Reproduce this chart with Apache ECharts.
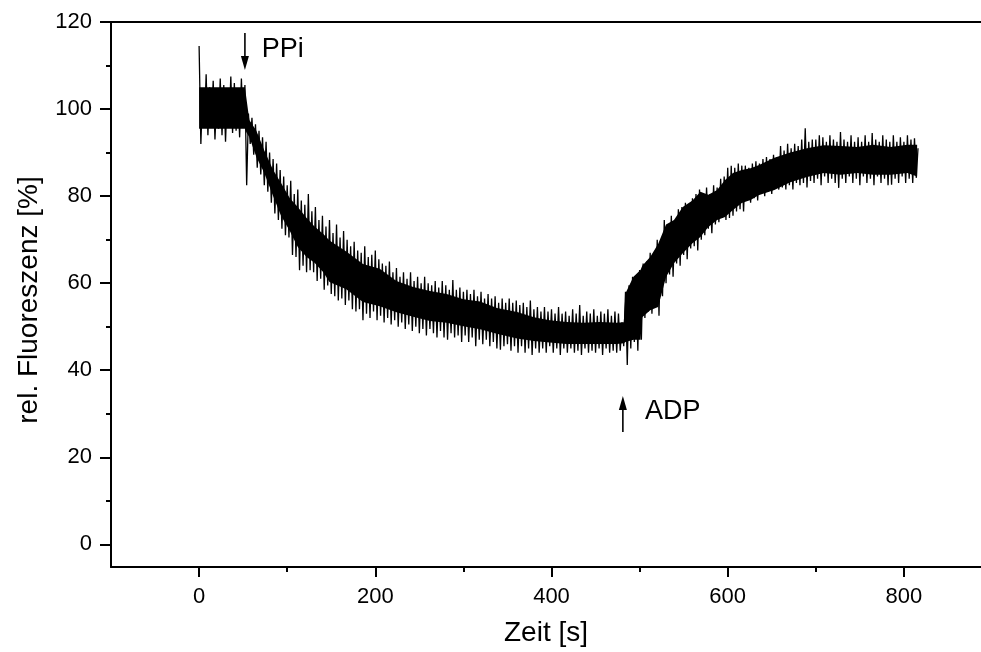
<!DOCTYPE html>
<html><head><meta charset="utf-8">
<script src="https://cdn.jsdelivr.net/npm/echarts@6/dist/echarts.min.js"></script>
<style>html,body{margin:0;padding:0;background:#fff}#c{width:981px;height:652px}</style>
</head><body><div id="c"></div>
<script>
// ---- tick labels ----
const xMajorTicks = [0, 200, 400, 600, 800];
const xMinorTicks = [100, 300, 500, 700];
const yMajorTicks = [0, 20, 40, 60, 80, 100, 120];
const yMinorTicks = [10, 30, 50, 70, 90, 110];

// ---- measured trace: one reading every 2 s (upper / lower excursions alternate) ----
const sampleStep = 2;
const trace = [
 114.5, 92, 104, 96, 108, 94, 105, 97, 106.5, 93,
 103, 95.5, 107, 94, 105.5, 92.5, 104, 96, 107.5, 94.5,
 106, 95, 104.5, 93.5, 107, 96, 105.5, 82.5, 99, 92,
 98, 89.5, 96.5, 86.5, 95, 85, 93.5, 82.5, 92.5, 81,
 90, 78.5, 88.5, 76, 87.5, 74.5, 86, 72.5, 84.5, 71,
 82.5, 70.5, 83.5, 66.5, 80.5, 66, 81.5, 63, 79, 64,
 78, 62.5, 80.5, 63, 76.5, 62.5, 77.5, 60.5, 74.5, 61,
 75.5, 58.5, 73, 59.5, 74.5, 57.5, 71.5, 57, 73.5, 56,
 70.5, 56.5, 72, 55, 70, 56, 68.5, 54, 69.5, 53.5,
 67.5, 54, 67, 51.5, 68.5, 53, 66, 52, 66.5, 53.5,
 67.5, 51.5, 65.5, 52.5, 64.5, 51, 64, 52, 65, 50.5,
 62.5, 51.5, 63.5, 50, 61.5, 51, 62.5, 49.5, 61, 50.5,
 62.5, 49, 60.5, 50, 61.5, 48.5, 60, 49.5, 61.5, 48,
 60, 49.5, 59.5, 48.5, 60.5, 47.5, 59, 49, 60.5, 47.5,
 59.5, 47, 58.5, 48.5, 60.7, 47.5, 58.5, 48, 59, 46.5,
 58, 48, 58.5, 46.5, 57.5, 47.5, 58.5, 45.5, 57, 47,
 58, 46, 56.5, 47, 57.5, 45.5, 56.5, 46.5, 57, 45,
 55.5, 44.7, 56.5, 45.5, 55.5, 46, 56.5, 44.5, 55.5, 45.5,
 56, 44, 55, 45.5, 55.5, 44, 54.5, 45, 56, 43.5,
 54, 45, 54.5, 44, 53.5, 45, 54.5, 44, 53.5, 45.5,
 54, 44, 53, 45, 54.5, 43.5, 53, 45, 53.5, 44,
 52.5, 45, 54, 44, 53, 44.5, 55, 43.5, 52.5, 45,
 53.5, 44, 53, 44.5, 54, 44, 52.5, 45, 53.5, 43.5,
 53, 45, 54, 44, 52.5, 44.5, 53.5, 44, 53, 44.5,
 51, 45.5, 58, 41.2, 59.5, 45, 61.5, 46.5, 60.5, 44.5,
 63, 47, 64.5, 52, 65, 53.5, 67, 53, 66.5, 55,
 70, 52.5, 69, 57, 74.5, 60, 73.5, 62, 75.5, 61.5,
 74.5, 64.5, 77, 64, 77.5, 66.5, 78.5, 65.5, 77.5, 68,
 79.5, 68.5, 80.5, 67.5, 81.5, 70, 80.5, 71, 82, 72.5,
 80.5, 71.5, 82.5, 73.5, 82, 74, 84, 75, 84.5, 74.5,
 86.5, 75, 87, 75.5, 86.5, 76.5, 87.5, 77, 87, 76.5,
 87, 79, 86.5, 78.5, 87.5, 79.5, 88, 79, 87.5, 80.5,
 88.5, 80, 89, 81, 88.5, 80.5, 89.5, 82, 89, 81.5,
 91.5, 82, 90.5, 81.5, 92, 82.5, 91, 81.5, 92, 83,
 91.5, 82.5, 93, 83, 95.6, 82, 92.5, 83.5, 93, 83,
 93, 84, 94, 82.5, 93.5, 84.5, 92.5, 83, 94, 84,
 93, 83, 92.5, 81.9, 94.7, 84, 93, 83, 92.5, 84.5,
 94, 83, 92.5, 84, 93.5, 82.5, 92.5, 84.5, 94, 83,
 92.5, 84, 94.5, 82.5, 93, 84.5, 92.5, 83, 94, 84,
 93, 82.5, 92.5, 82.6, 94, 84, 92.5, 83, 93.5, 84.5,
 92.5, 83, 94, 84, 93, 83, 93.3, 84.2, 91
];

// ---- dense core of the noisy band (upper / lower edge of the solid black) ----
const coreT  = [0, 52, 54, 57, 65, 74, 84, 93, 103, 112, 122, 131, 141, 148, 167, 186, 205, 224, 243, 262,
  281, 300, 319, 338, 361, 380, 398, 417, 436, 455, 474, 482, 484, 493, 501, 503, 512, 521, 530, 539,
  549, 560, 569, 578, 588, 597, 606, 616, 626, 635, 653, 671, 690, 709, 728, 747, 765, 785, 804, 815];
const coreHi = [105, 105, 102, 97.5, 95, 90.5, 86, 83, 79.5, 77.5, 75, 73, 71.3, 69.8, 67.3, 64.4, 63.3, 60.5, 59.1, 58.2,
  57.5, 56.3, 55.8, 54.3, 53.4, 52.2, 51.5, 51.1, 50.9, 51.1, 50.9, 51, 57.7, 61.5, 63, 64, 66, 69, 73.5, 74.5,
  77.5, 79, 81, 80.3, 81.4, 83.7, 85.3, 86, 86.4, 87.1, 88.8, 90, 91, 91.7, 91.5, 91.3, 91.8, 91.3, 91.8, 91.8];
const coreLo = [95.5, 95.5, 94.5, 93.6, 89, 85.3, 80, 75.5, 72, 68.3, 66, 64.7, 62.5, 60.3, 58.6, 55.7, 54.7, 53.3, 52.3, 51.3,
  50.9, 50.1, 49.4, 48.4, 47.3, 46.7, 46.4, 46, 46, 46, 46, 46.2, 46.5, 47, 47, 52.2, 53.8, 54.5, 61.4, 64.6,
  66.9, 69.2, 70.6, 72.9, 74.5, 75.2, 76.8, 78.4, 79.1, 80.2, 81.4, 83.2, 84.4, 85.3, 84.9, 85.3, 84.9, 84.9, 85.3, 84.5];

// ---- annotations (arrow in data units) ----
const annotations = [
  { label: 'PPi', t: 52, from: 117.5, to: 109, textT: 71, textY: 113.6 },
  { label: 'ADP', t: 481, from: 25.8, to: 34.1, textT: 506, textY: 30.4 }
];

const FONT = 'Liberation Sans, Arial, Helvetica, sans-serif';
const traceData = trace.map((v, i) => [i * sampleStep, v]);
const black = '#000';
const X_MIN = -100, X_MAX = 887.5, Y_MIN = -5.2, Y_MAX = 120;

const chart = echarts.init(document.getElementById('c'), null, { renderer: 'canvas' });
chart.setOption({
  animation: false,
  backgroundColor: '#fff',
  grid: { left: 111, right: 0, top: 22, bottom: 85, containLabel: false },
  xAxis: [
    { type: 'value', min: X_MIN, max: X_MAX, position: 'bottom',
      axisLine: { show: true, onZero: false, lineStyle: { color: black, width: 2 } },
      axisTick: { show: true, inside: false, length: 10, customValues: xMajorTicks, lineStyle: { color: black, width: 2 } },
      axisLabel: { show: true, customValues: xMajorTicks, color: black, fontSize: 22, fontFamily: FONT, margin: 19 },
      splitLine: { show: false },
      name: 'Zeit [s]', nameLocation: 'middle', nameGap: 52,
      nameTextStyle: { color: black, fontSize: 28, fontFamily: FONT } },
    { type: 'value', min: X_MIN, max: X_MAX, position: 'bottom',
      axisLine: { show: false, onZero: false },
      axisTick: { show: true, inside: false, length: 5, customValues: xMinorTicks, lineStyle: { color: black, width: 2 } },
      axisLabel: { show: false }, splitLine: { show: false } },
    { type: 'value', min: X_MIN, max: X_MAX, position: 'top',
      axisLine: { show: true, onZero: false, lineStyle: { color: black, width: 2 } },
      axisTick: { show: false }, axisLabel: { show: false }, splitLine: { show: false } }
  ],
  yAxis: [
    { type: 'value', min: Y_MIN, max: Y_MAX, position: 'left',
      axisLine: { show: true, onZero: false, lineStyle: { color: black, width: 2 } },
      axisTick: { show: true, inside: false, length: 11, customValues: yMajorTicks, lineStyle: { color: black, width: 2 } },
      axisLabel: { show: true, customValues: yMajorTicks, color: black, fontSize: 22, fontFamily: FONT, margin: 19 },
      splitLine: { show: false },
      name: 'rel. Fluoreszenz [%]', nameLocation: 'middle', nameGap: 68, nameRotate: 90,
      nameTextStyle: { color: black, fontSize: 28, fontFamily: FONT, padding: [0, 11, 0, 0] } },
    { type: 'value', min: Y_MIN, max: Y_MAX, position: 'left',
      axisLine: { show: false, onZero: false },
      axisTick: { show: true, inside: false, length: 5, customValues: yMinorTicks, lineStyle: { color: black, width: 2 } },
      axisLabel: { show: false }, splitLine: { show: false } }
  ],
  series: [
    { type: 'custom', xAxisIndex: 0, yAxisIndex: 0, silent: true, z: 2, data: [[0, 0]],
      renderItem: function (params, api) {
        const pts = [];
        for (let i = 0; i < coreT.length; i++) pts.push(api.coord([coreT[i], coreHi[i]]));
        for (let i = coreT.length - 1; i >= 0; i--) pts.push(api.coord([coreT[i], coreLo[i]]));
        return { type: 'polygon', shape: { points: pts }, style: { fill: black } };
      } },
    { type: 'line', xAxisIndex: 0, yAxisIndex: 0, data: traceData, symbol: 'none', silent: true, z: 3,
      lineStyle: { color: black, width: 1.3 } }
  ]
});

// annotations via the axes' own conversion
const gfx = [];
annotations.forEach(a => {
  const p0 = chart.convertToPixel({ xAxisIndex: 0, yAxisIndex: 0 }, [a.t, a.from]);
  const p1 = chart.convertToPixel({ xAxisIndex: 0, yAxisIndex: 0 }, [a.t, a.to]);
  const dir = p1[1] > p0[1] ? 1 : -1;
  const headLen = 14, headW = 4;
  gfx.push({ type: 'line', shape: { x1: p0[0], y1: p0[1], x2: p1[0], y2: p1[1] - dir * headLen * 0.6 },
    style: { stroke: black, lineWidth: 1.6 }, z: 10 });
  gfx.push({ type: 'polygon', shape: { points: [[p1[0], p1[1]], [p1[0] - headW, p1[1] - dir * headLen], [p1[0] + headW, p1[1] - dir * headLen]] },
    style: { fill: black }, z: 10 });
  const tp = chart.convertToPixel({ xAxisIndex: 0, yAxisIndex: 0 }, [a.textT, a.textY]);
  gfx.push({ type: 'text', x: tp[0], y: tp[1], z: 10,
    style: { text: a.label, fill: black, font: '27px ' + FONT, textAlign: 'left', textVerticalAlign: 'middle' } });
});
chart.setOption({ graphic: gfx });
</script></body></html>
